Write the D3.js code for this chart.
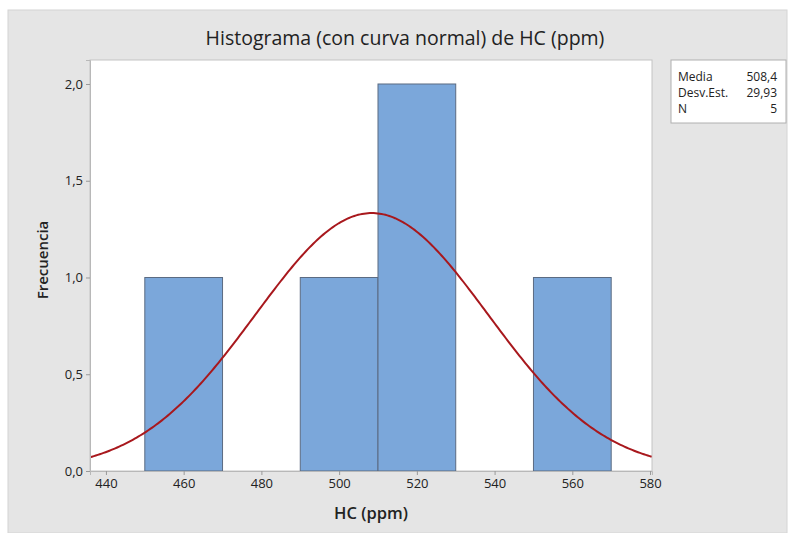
<!DOCTYPE html>
<html><head><meta charset="utf-8">
<script src="https://cdn.jsdelivr.net/npm/d3@7"></script>
<style>body{margin:0;background:#fff}svg{display:block}text{font-family:"Open Sans","Noto Sans",sans-serif;fill:#222}</style>
</head><body>
<svg id="c" width="789" height="533"></svg>
<script>
// Data
const binStarts = [450, 490, 510, 550];
const binWidth = 20;
const frequencies = [1, 1, 2, 1];
const xTicks = [440, 460, 480, 500, 520, 540, 560, 580];
const yTicks = [0, 0.5, 1.0, 1.5, 2.0];
const statLabels = ["Media", "Desv.Est.", "N"];
const statValues = ["508,4", "29,93", "5"];
const mean = 508.4, sd = 29.93, n = 5;

const svg = d3.select("#c");
const fmt = d3.formatLocale({decimal: ",", thousands: ".", grouping: [3], currency: ["", ""]});
const f1 = fmt.format(".1f");

svg.append("rect").attr("x", 8).attr("y", 10).attr("width", 779).attr("height", 523)
  .attr("fill", "#e5e5e5").attr("stroke", "#d4d4d4");

const L = 90, T = 60, R = 652, B = 471;
const x = d3.scaleLinear().domain([435.9, 580.5]).range([L, R]);
const y = d3.scaleLinear().domain([0, 2.124]).range([B, T]);

svg.append("rect").attr("x", L).attr("y", T).attr("width", R - L).attr("height", B - T)
  .attr("fill", "#fff").attr("stroke", "#c4c4c4").attr("stroke-width", 1);

svg.append("clipPath").attr("id", "pc").append("rect")
  .attr("x", L).attr("y", T).attr("width", R - L).attr("height", B - T);

svg.append("g").selectAll("rect").data(binStarts).join("rect")
  .attr("x", (d) => x(d)).attr("width", (d) => x(d + binWidth) - x(d))
  .attr("y", (d, i) => y(frequencies[i])).attr("height", (d, i) => y(0) - y(frequencies[i]))
  .attr("fill", "#7ba7da").attr("stroke", "#5b6b82").attr("stroke-width", 1);

// fitted normal curve from the displayed statistics
const pdf = (v) => n * binWidth * Math.exp(-0.5 * ((v - mean) / sd) ** 2) / (sd * Math.sqrt(2 * Math.PI));
const xs = d3.range(x.domain()[0], x.domain()[1] + 0.01, 0.5);
svg.append("path").datum(xs).attr("clip-path", "url(#pc)")
  .attr("d", d3.line().x((d) => x(d)).y((d) => y(pdf(d))))
  .attr("fill", "none").attr("stroke", "#a8181d").attr("stroke-width", 2);

// axes
const xa = svg.append("g").attr("transform", `translate(0,${B})`)
  .call(d3.axisBottom(x).tickValues(xTicks).tickSize(4).tickPadding(4).tickFormat(d3.format("d")));
xa.select(".domain").attr("stroke", "#b8b8b8");
xa.selectAll(".tick line").attr("stroke", "#999");
xa.selectAll("text").attr("font-size", 13).attr("fill", "#222").attr("font-family", "Open Sans");

const ya = svg.append("g").attr("transform", `translate(${L},0)`)
  .call(d3.axisLeft(y).tickValues(yTicks).tickSize(4).tickPadding(3).tickFormat(f1));
ya.select(".domain").attr("stroke", "#b8b8b8");
ya.selectAll(".tick line").attr("stroke", "#999");
ya.selectAll("text").attr("font-size", 13).attr("fill", "#222").attr("font-family", "Open Sans");

svg.append("text").attr("x", 405).attr("y", 45).attr("text-anchor", "middle")
  .attr("font-size", 19.5).attr("fill", "#111").text("Histograma (con curva normal) de HC (ppm)");
svg.append("text").attr("x", 371).attr("y", 519).attr("text-anchor", "middle")
  .attr("font-size", 16.5).attr("font-weight", 600).text("HC (ppm)");
svg.append("text").attr("transform", "translate(48,260) rotate(-90)").attr("text-anchor", "middle")
  .attr("font-size", 15).attr("font-weight", 600).text("Frecuencia");

// stats box
svg.append("rect").attr("x", 671).attr("y", 60).attr("width", 115).attr("height", 63)
  .attr("fill", "#fff").attr("stroke", "#b0b0b0");
const rows = svg.append("g").selectAll("g").data(statLabels).join("g")
  .attr("transform", (d, i) => `translate(0,${80.5 + i * 16.2})`);
rows.append("text").attr("x", 678).attr("font-size", 12).text((d) => d);
rows.append("text").attr("x", 777).attr("font-size", 12).attr("text-anchor", "end").text((d, i) => statValues[i]);
</script>
</body></html>
